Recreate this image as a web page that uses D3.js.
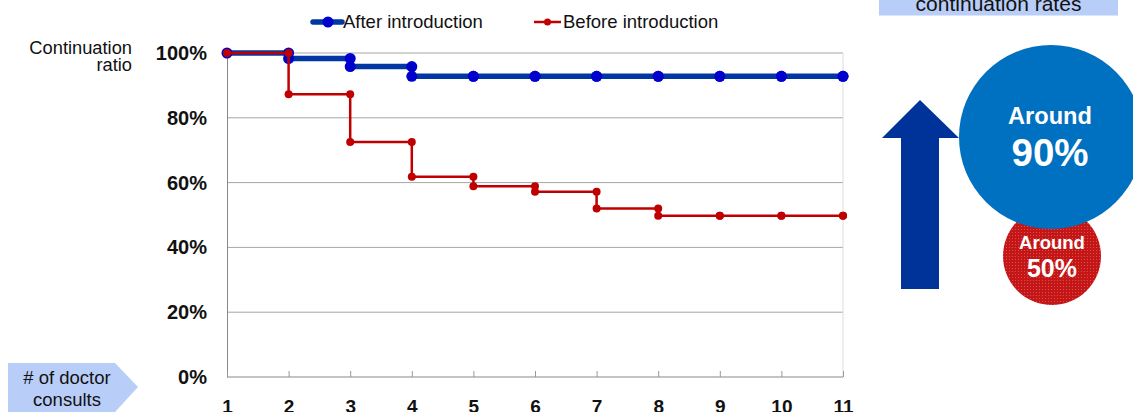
<!DOCTYPE html>
<html><head><meta charset="utf-8">
<script src="https://cdn.jsdelivr.net/npm/d3@7/dist/d3.min.js"></script>
<style>html,body{margin:0;padding:0;background:#fff;overflow:hidden}svg{display:block;font-family:"Liberation Sans",Arial,sans-serif}</style>
</head><body><svg id="c" width="1133" height="412"></svg>
<script>
const consults = [1,2,3,4,5,6,7,8,9,10,11];
const afterIntro = [100, 98.3, 95.8, 92.8, 92.8, 92.8, 92.8, 92.8, 92.8, 92.8, 92.8];
const beforeIntro = [100, 87.3, 72.5, 61.8, 58.9, 57.2, 52.0, 49.8, 49.8, 49.8, 49.8];
const yTicks = [0, 20, 40, 60, 80, 100];
const seriesNames = ["After introduction", "Before introduction"];

const svg = d3.select("#c");
const x = d3.scaleLinear().domain([1, 11]).range([227, 843]);
const y = d3.scaleLinear().domain([0, 100]).range([377, 53]);

// gridlines
svg.append("g").selectAll("line").data(yTicks.filter(d => d > 0)).join("line")
  .attr("x1", x(1)).attr("x2", x(11)).attr("y1", d => y(d)).attr("y2", d => y(d))
  .attr("stroke", "#a6a6a6").attr("stroke-width", 1);
// right border
svg.append("line").attr("x1", x(11)).attr("x2", x(11)).attr("y1", y(100)).attr("y2", y(0))
  .attr("stroke", "#dcdcdc");

// y axis
const yAxis = svg.append("g").attr("transform", `translate(${x(1)},0)`)
  .call(d3.axisLeft(y).tickValues(yTicks).tickSize(0).tickPadding(20).tickFormat(d => d + "%"));
yAxis.select(".domain").attr("stroke", "#888");
yAxis.selectAll("text").attr("font-size", 20).attr("font-weight", "bold").attr("fill", "#111")
  .attr("font-family", "Liberation Sans, Arial, sans-serif");

// x axis
const xAxis = svg.append("g").attr("transform", `translate(0,${y(0)})`)
  .call(d3.axisBottom(x).tickValues(consults).tickSize(-6).tickPadding(0).tickFormat(d3.format("d")));
xAxis.select(".domain").attr("stroke", "#888").attr("d", `M${x(1)},0H${x(11)}`);
xAxis.selectAll(".tick line").attr("stroke", "#999");
xAxis.selectAll("text").attr("font-size", 19).attr("font-weight", "bold").attr("fill", "#111")
  .attr("dy", 0).attr("y", 36).attr("font-family", "Liberation Sans, Arial, sans-serif");

function stepPoints(vals) {
  const pts = [];
  vals.forEach((v, i) => {
    if (i === 0) pts.push([consults[i], v]);
    else { pts.push([consults[i], vals[i-1]]); pts.push([consults[i], v]); }
  });
  return pts;
}
const line = d3.line().x(d => x(d[0])).y(d => y(d[1]));

function drawSeries(vals, lineColor, lw, markColor, r) {
  const pts = stepPoints(vals);
  const g = svg.append("g");
  g.append("path").datum(pts).attr("d", line).attr("fill", "none")
    .attr("stroke", lineColor).attr("stroke-width", lw).attr("stroke-linejoin", "round");
  g.selectAll("circle").data(pts).join("circle")
    .attr("cx", d => x(d[0])).attr("cy", d => y(d[1])).attr("r", r).attr("fill", markColor);
}
drawSeries(afterIntro, "#0037a4", 5.5, "#0000cc", 5.5);
drawSeries(beforeIntro, "#c00000", 2.5, "#c00000", 4);

// legend
const lg = svg.append("g");
lg.append("line").attr("x1", 313).attr("x2", 342).attr("y1", 22).attr("y2", 22)
  .attr("stroke", "#0037a4").attr("stroke-width", 5.5).attr("stroke-linecap", "round");
lg.append("circle").attr("cx", 328).attr("cy", 22).attr("r", 5.5).attr("fill", "#0000cc");
lg.append("text").attr("x", 343).attr("y", 28).attr("font-size", 18.5).attr("fill", "#111").text(seriesNames[0]);
lg.append("line").attr("x1", 534).attr("x2", 561).attr("y1", 22).attr("y2", 22)
  .attr("stroke", "#c00000").attr("stroke-width", 2.5);
lg.append("circle").attr("cx", 547.5).attr("cy", 22).attr("r", 3.5).attr("fill", "#c00000");
lg.append("text").attr("x", 563).attr("y", 28).attr("font-size", 18.5).attr("fill", "#111").text(seriesNames[1]);

// y title
svg.append("text").attr("x", 132).attr("y", 54).attr("text-anchor", "end").attr("font-size", 18.3).attr("fill", "#111").text("Continuation");
svg.append("text").attr("x", 132).attr("y", 71).attr("text-anchor", "end").attr("font-size", 18.3).attr("fill", "#111").text("ratio");

// x title pentagon
svg.append("path").attr("d", "M8,363 L115,363 L138,387 L115,412 L8,412 Z").attr("fill", "#b8cdf8");
svg.append("text").attr("x", 67).attr("y", 383.5).attr("text-anchor", "middle").attr("font-size", 18.5).attr("fill", "#111").text("# of doctor");
svg.append("text").attr("x", 67).attr("y", 406).attr("text-anchor", "middle").attr("font-size", 18.5).attr("fill", "#111").text("consults");

// top-right box
svg.append("rect").attr("x", 879).attr("y", -30).attr("width", 239).attr("height", 45.5).attr("fill", "#b8cdf8");
svg.append("text").attr("x", 998.5).attr("y", 11).attr("text-anchor", "middle").attr("font-size", 21).attr("fill", "#111").text("continuation rates");

// arrow
svg.append("path").attr("d", "M901,289 L901,138 L882,138 L920,100 L959,138 L939,138 L939,289 Z").attr("fill", "#003399");

// pattern for red circle
const defs = svg.append("defs");
const pat = defs.append("pattern").attr("id", "dots").attr("width", 3).attr("height", 3).attr("patternUnits", "userSpaceOnUse");
pat.append("rect").attr("width", 3).attr("height", 3).attr("fill", "#c41616");
pat.append("rect").attr("x", 1).attr("y", 1).attr("width", 1).attr("height", 1).attr("fill", "#d85050");

svg.append("circle").attr("cx", 1052).attr("cy", 256).attr("r", 49).attr("fill", "url(#dots)");
svg.append("text").attr("x", 1052).attr("y", 249).attr("text-anchor", "middle").attr("font-size", 18.5).attr("font-weight", "bold").attr("fill", "#fff").text("Around");
svg.append("text").attr("x", 1052).attr("y", 277).attr("text-anchor", "middle").attr("font-size", 25).attr("font-weight", "bold").attr("fill", "#fff").text("50%");

svg.append("circle").attr("cx", 1051).attr("cy", 137).attr("r", 92).attr("fill", "#0070c0");
svg.append("text").attr("x", 1050).attr("y", 124).attr("text-anchor", "middle").attr("font-size", 23.6).attr("font-weight", "bold").attr("fill", "#fff").text("Around");
svg.append("text").attr("x", 1050).attr("y", 166).attr("text-anchor", "middle").attr("font-size", 38.5).attr("font-weight", "bold").attr("fill", "#fff").text("90%");
</script></body></html>
